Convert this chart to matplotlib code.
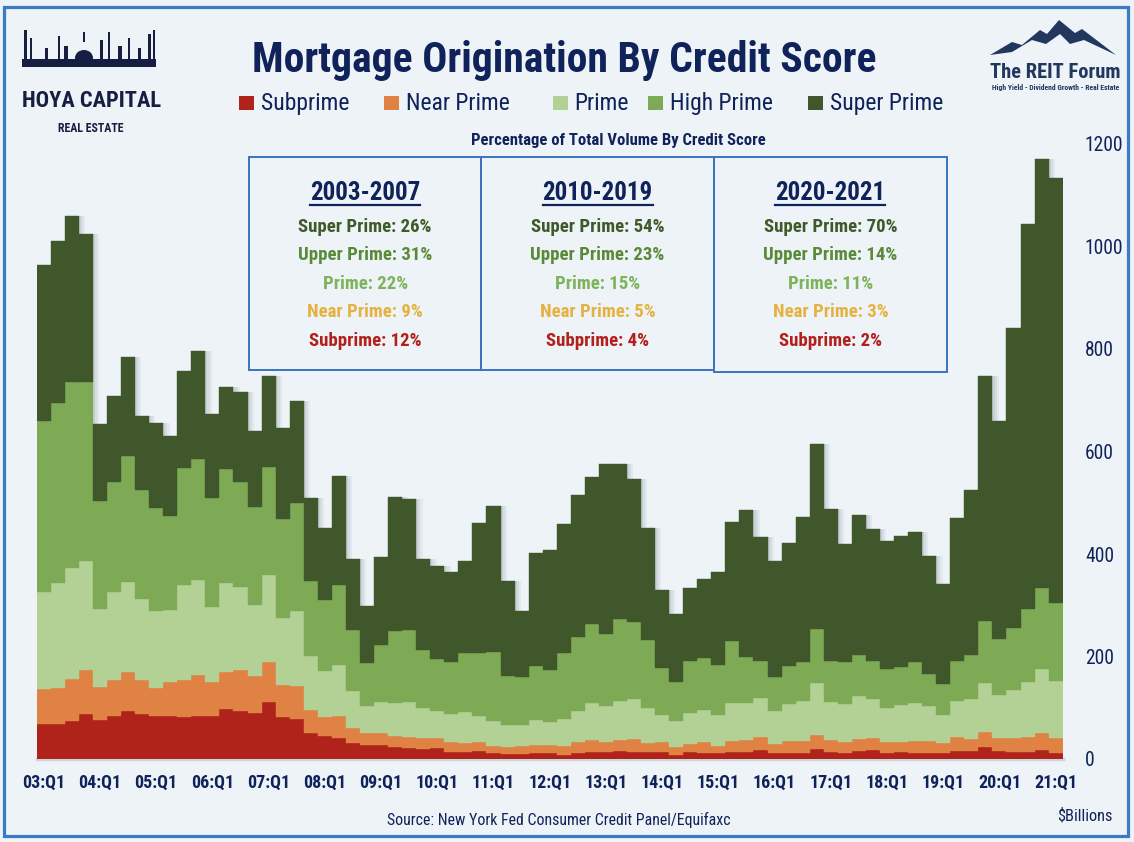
import numpy as np
import matplotlib
matplotlib.use("Agg")
import matplotlib.pyplot as plt
from matplotlib import font_manager as fm
from matplotlib.patches import Rectangle, Polygon, Ellipse
from matplotlib.lines import Line2D

# ---------------- data (billions of $, quarterly 2003Q1 - 2021Q1) ----------------
subprime = [68, 68, 75, 88, 77, 84, 94, 87, 83, 84,
            81, 84, 84, 98, 93, 90, 112, 81, 79, 51,
            44, 41, 32, 27, 27, 23, 21, 20, 21, 14,
            14, 16, 11, 9, 10, 12, 11, 8, 12, 14,
            14, 16, 14, 14, 14, 8, 14, 12, 12, 14,
            14, 18, 12, 12, 12, 20, 14, 12, 16, 18,
            12, 14, 12, 12, 12, 16, 16, 23, 16, 14,
            14, 18, 12]
near_prime = [68, 70, 82, 86, 64, 71, 76, 68, 55, 66,
              74, 79, 66, 72, 80, 71, 77, 64, 64, 44,
              38, 43, 29, 24, 24, 21, 21, 21, 20, 20,
              18, 18, 14, 15, 15, 15, 16, 18, 21, 23,
              20, 21, 25, 18, 20, 16, 16, 21, 14, 21,
              23, 25, 17, 23, 24, 27, 23, 22, 23, 23,
              21, 19, 23, 23, 19, 27, 23, 29, 25, 27,
              29, 33, 29]
prime = [189, 205, 216, 213, 151, 170, 176, 158, 151, 141,
         185, 186, 147, 174, 163, 139, 170, 130, 146, 106,
         90, 99, 71, 53, 60, 65, 70, 59, 53, 53,
         60, 49, 49, 43, 41, 49, 45, 52, 61, 72,
         69, 77, 78, 67, 51, 51, 60, 63, 60, 74,
         73, 77, 65, 72, 78, 101, 75, 73, 84, 77,
         67, 72, 74, 69, 55, 70, 79, 97, 84, 94,
         107, 125, 111]
high_prime = [335, 352, 362, 348, 212, 216, 246, 211, 200, 184,
              228, 237, 213, 221, 204, 191, 210, 193, 210, 147,
              138, 156, 119, 84, 112, 140, 139, 113, 102, 102,
              115, 123, 134, 95, 94, 106, 102, 129, 145, 154,
              140, 159, 151, 134, 93, 76, 101, 101, 97, 121,
              89, 72, 66, 75, 76, 105, 79, 83, 80, 73,
              76, 74, 80, 62, 60, 78, 85, 121, 110, 120,
              142, 157, 152]
super_prime = [304, 315, 325, 290, 149, 168, 193, 145, 166, 156,
               190, 211, 163, 161, 177, 149, 179, 177, 199, 162,
               141, 214, 140, 110, 171, 262, 257, 177, 181, 175,
               180, 255, 285, 186, 129, 220, 234, 251, 277, 287,
               332, 302, 279, 217, 152, 132, 142, 154, 181, 232,
               286, 241, 226, 240, 282, 361, 296, 229, 273, 257,
               249, 256, 254, 231, 195, 279, 321, 477, 425, 586,
               752, 838, 830]

series_names = ["Subprime", "Near Prime", "Prime", "High Prime", "Super Prime"]
series_colors = ["#B0231B", "#E08244", "#B3D095", "#7EAA55", "#40572B"]

x_labels = ["03:Q1", "04:Q1", "05:Q1", "06:Q1", "07:Q1", "08:Q1", "09:Q1",
            "10:Q1", "11:Q1", "12:Q1", "13:Q1", "14:Q1", "15:Q1", "16:Q1",
            "17:Q1", "18:Q1", "19:Q1", "20:Q1", "21:Q1"]
y_ticks = [0, 200, 400, 600, 800, 1000, 1200]

# text box content (percentage of total volume)
periods = ["2003-2007", "2010-2019", "2020-2021"]
share_labels = ["Super Prime", "Upper Prime", "Prime", "Near Prime", "Subprime"]
super_share = [26, 54, 70]
upper_share = [31, 23, 14]
prime_share = [22, 15, 11]
near_share = [9, 5, 3]
sub_share = [12, 4, 2]
share_colors = ["#3E5A29", "#5A8A38", "#7DB35A", "#E6B23F", "#B3201C"]

# ---------------- styling ----------------
BG = "#EEF3F8"
NAVY = "#0F2259"
BORDER = "#3B7BC6"

W, H = 1134, 842
fig = plt.figure(figsize=(W / 100, H / 100), dpi=100, facecolor=BG)
renderer = fig.canvas.get_renderer()

names = {f.name for f in fm.fontManager.ttflist}
FONT = "DejaVu Sans"
for cand in ["Roboto Condensed", "Liberation Sans Narrow", "Noto Sans Condensed",
             "Open Sans Condensed", "Roboto"]:
    if cand in names:
        FONT = cand
        break


def fx(px):
    return px / W


def fy(py):
    return 1 - py / H


def ftext(x, y, s, target_w, size, **kw):
    kw.setdefault("fontfamily", FONT)
    kw.setdefault("va", "baseline")
    t = fig.text(fx(x), fy(y), s, fontsize=size, **kw)
    w = t.get_window_extent(renderer=renderer).width
    if w > target_w:
        t.set_fontsize(size * target_w / w)
    return t


def fit_size(s, target_w, size, weight="normal"):
    t = fig.text(0, 0, s, fontsize=size, fontfamily=FONT, fontweight=weight)
    w = t.get_window_extent(renderer=renderer).width
    t.remove()
    return size * min(1.0, target_w / w)


# ---------------- chart ----------------
ax = fig.add_axes([fx(36.7), 1 - 759 / H, 1026 / W, 615 / H])
ax.set_facecolor("none")
xs = np.arange(len(subprime))
layers = [subprime, near_prime, prime, high_prime, super_prime]
totals = np.sum(np.array(layers, dtype=float), axis=0)

# soft drop shadow to the right of the stacks
for off, a in [(0.45, 0.10), (0.3, 0.12), (0.15, 0.14)]:
    ax.bar(xs + off, totals, width=1.0, color="#7d8890", alpha=a, linewidth=0, zorder=1)

bottom = np.zeros(len(xs))
for vals, col in zip(layers, series_colors):
    ax.bar(xs, vals, bottom=bottom, width=1.0, color=col, edgecolor=col,
           linewidth=0.3, zorder=2)
    bottom += np.array(vals, dtype=float)

ax.axhline(0, color="#CFD4D9", lw=2.5, zorder=1.5, clip_on=False)
ax.set_xlim(-0.5, len(xs) - 0.5)
ax.set_ylim(0, 1200)
for sp in ax.spines.values():
    sp.set_visible(False)

ax.set_xticks([4 * i for i in range(len(x_labels))])
ax.set_xticklabels(x_labels)
xsz = fit_size("03:Q1", 45, 13, "bold")
ax.tick_params(axis="x", length=0, pad=11, labelsize=xsz, labelcolor=NAVY)
for lbl in ax.get_xticklabels():
    lbl.set_fontfamily(FONT)
    lbl.set_fontweight("bold")

ax.yaxis.tick_right()
ax.set_yticks(y_ticks)
ax.set_yticklabels([str(v) for v in y_ticks])
ysz = fit_size("200", 29, 15)
ax.tick_params(axis="y", length=0, pad=16, labelsize=ysz, labelcolor=NAVY)
for lbl in ax.get_yticklabels():
    lbl.set_fontfamily(FONT)

# ---------------- frame ----------------
fig.patches.append(Rectangle((fx(3.5), fy(835.5)), 1124.5 / W, 829 / H,
                             transform=fig.transFigure, fill=False,
                             edgecolor=BORDER, lw=2.3, zorder=10))

# ---------------- title & legend ----------------
ftext(564, 72, "Mortgage Origination By Credit Score", 626, 30,
      ha="center", fontweight="bold", color=NAVY)

sq_x = [239, 383.5, 552.5, 648, 808]
leg_size = fit_size("Subprime", 92, 17)
for name, col, sx in zip(series_names, series_colors, sq_x):
    fig.patches.append(Rectangle((fx(sx), fy(110)), 15 / W, 14 / H,
                                 transform=fig.transFigure, facecolor=col,
                                 edgecolor="none"))
    ftext(sx + 22, 110, name, 500, leg_size, ha="left", color=NAVY)

# ---------------- percentage table ----------------
ftext(618, 145, "Percentage of Total Volume By Credit Score", 308, 12,
      ha="center", fontweight="bold", color=NAVY)

box_edges = [249.4, 481, 714.3, 946.5]
box_bottoms = [370, 370, 371.7]
for i, period in enumerate(periods):
    x0, x1 = box_edges[i], box_edges[i + 1]
    fig.patches.append(Rectangle((fx(x0), fy(box_bottoms[i])), (x1 - x0) / W,
                                 (box_bottoms[i] - 157.3) / H,
                                 transform=fig.transFigure, fill=False,
                                 edgecolor="#3A74BE", lw=1.4, zorder=5))
    cx = (x0 + x1) / 2
    ht = ftext(cx, 200, period, 120, 18, ha="center", fontweight="bold", color=NAVY)
    bb = ht.get_window_extent(renderer=renderer)
    fig.lines.append(Line2D([bb.x0 / W, bb.x1 / W], [fy(204.5), fy(204.5)],
                            transform=fig.transFigure, color=NAVY, lw=1.6))
    vals = [super_share[i], upper_share[i], prime_share[i], near_share[i], sub_share[i]]
    for j, (lab, v, col) in enumerate(zip(share_labels, vals, share_colors)):
        s = f"{lab}: {v}%"
        ftext(cx, 232 + 28.4 * j, s, 152 * len(s) / 16.0, 13.5,
              ha="center", fontweight="bold", color=col)

# ---------------- footer ----------------
ftext(558.6, 825, "Source: New York Fed Consumer Credit Panel/Equifaxc", 343, 12,
      ha="center", color=NAVY)
ftext(1113, 821, "$Billions", 56, 12, ha="right", color=NAVY)

# ---------------- logos ----------------
LOGO = "#161F42"
sky = [Rectangle((fx(22), fy(67)), 134 / W, 8 / H)]
for tx, tw, th in [(24, 3, 30), (30, 2, 22), (45, 3, 12), (58, 2, 24), (64, 4, 14),
                   (100, 3, 20), (108, 2, 28), (118, 4, 14), (128, 2, 22),
                   (138, 3, 12), (148, 3, 26), (153, 2, 30)]:
    sky.append(Rectangle((fx(tx), fy(60)), tw / W, th / H))
for p in sky:
    p.set_transform(fig.transFigure)
    p.set_facecolor(LOGO)
    p.set_edgecolor("none")
    fig.patches.append(p)
fig.patches.append(Ellipse((fx(84), fy(58)), 18 / W, 16 / H, transform=fig.transFigure,
                           facecolor=LOGO, edgecolor="none"))
fig.patches.append(Rectangle((fx(83), fy(72 - 30)), 2 / W, 10 / H,
                             transform=fig.transFigure, facecolor=LOGO, edgecolor="none"))
ftext(92, 107, "HOYA CAPITAL", 139, 40, ha="center", fontweight="bold", color=LOGO)
ftext(91, 132, "REAL ESTATE", 66, 20, ha="center", fontweight="bold", color=LOGO)

mountain = [(990, 55), (1012, 42), (1022, 45), (1040, 30), (1047, 34), (1059, 20),
            (1075, 33), (1082, 29), (1116, 55), (1084, 40), (1070, 44), (1060, 34),
            (1046, 44), (1032, 40), (1012, 52)]
fig.patches.append(Polygon([(fx(a), fy(b)) for a, b in mountain], closed=True,
                           transform=fig.transFigure, facecolor="#22375E",
                           edgecolor="none"))
ftext(1055.5, 78, "The REIT Forum", 131, 16, ha="center", fontweight="bold",
      color="#22375E")
ftext(1056, 90, "High Yield - Dividend Growth - Real Estate", 128, 6, ha="center",
      fontweight="bold", color="#22375E")

fig.savefig("out.png", dpi=100, facecolor=BG)
